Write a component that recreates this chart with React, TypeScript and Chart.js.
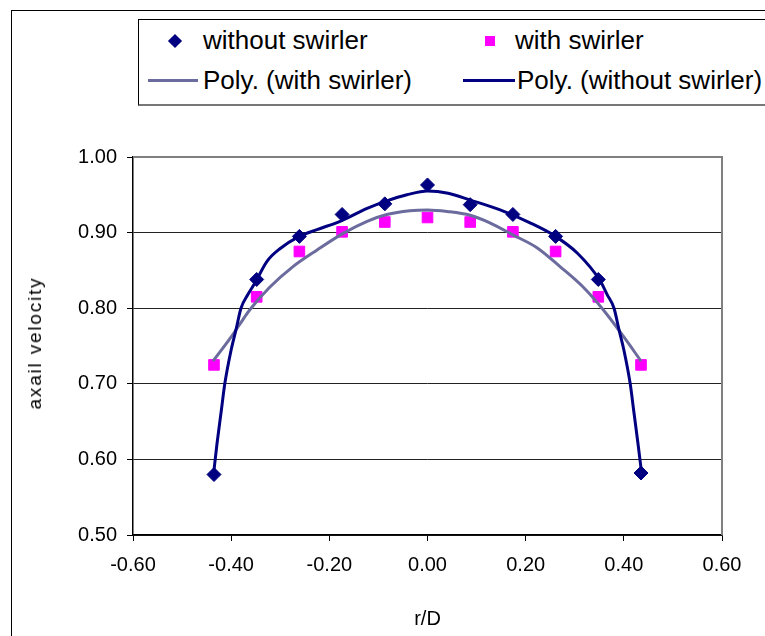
import React, { useEffect, useRef } from 'react';
import { Chart, registerables } from 'chart.js';

Chart.register(...registerables);

const FONT = '"Liberation Sans", Arial, sans-serif';

// measured points
const rD = [-0.435, -0.348, -0.261, -0.174, -0.087, 0, 0.087, 0.174, 0.261, 0.348, 0.435];
const withoutSwirler = [0.58, 0.838, 0.895, 0.924, 0.938, 0.963, 0.937, 0.924, 0.895, 0.838, 0.582];
const withSwirler = [0.725, 0.815, 0.875, 0.901, 0.914, 0.92, 0.914, 0.901, 0.875, 0.815, 0.725];

// trendlines
const polyWithoutX = [-0.436, -0.429, -0.42, -0.413, -0.4, -0.39, -0.38, -0.366, -0.351, -0.327, -0.3, -0.264, -0.225, -0.178, -0.123, -0.083, -0.042, 0, 0.042, 0.087, 0.148, 0.209, 0.256, 0.305, 0.352, 0.366, 0.38, 0.39, 0.4, 0.413, 0.42, 0.429, 0.436];
const polyWithoutY = [0.58, 0.62, 0.665, 0.7, 0.745, 0.772, 0.8, 0.818, 0.834, 0.862, 0.879, 0.894, 0.904, 0.915, 0.932, 0.942, 0.95, 0.955, 0.952, 0.943, 0.93, 0.913, 0.897, 0.873, 0.836, 0.818, 0.8, 0.772, 0.745, 0.7, 0.665, 0.62, 0.583];

const polyWithX = [-0.437, -0.4, -0.376, -0.362, -0.321, -0.274, -0.225, -0.172, -0.123, -0.083, -0.036, 0, 0.04, 0.087, 0.127, 0.174, 0.223, 0.27, 0.317, 0.358, 0.4, 0.435];
const polyWithY = [0.73, 0.762, 0.785, 0.798, 0.828, 0.855, 0.877, 0.899, 0.915, 0.924, 0.929, 0.93, 0.928, 0.923, 0.913, 0.897, 0.88, 0.855, 0.828, 0.798, 0.762, 0.73];

const xTicks = [-0.6, -0.4, -0.2, 0, 0.2, 0.4, 0.6];
const yTicks = [0.5, 0.6, 0.7, 0.8, 0.9, 1.0];

const NAVY = '#000080';
const MAGENTA = '#FF00FF';
const GRAYBLUE = '#6B6B9E';

const zip = (xs: number[], ys: number[]) => xs.map((x, i) => ({ x, y: ys[i] }));

const plotBorder = {
  id: 'plotBorder',
  beforeDatasetsDraw(chart: any) {
    const { ctx, chartArea } = chart;
    ctx.save();
    ctx.strokeStyle = '#808080';
    ctx.lineWidth = 2;
    ctx.beginPath();
    ctx.moveTo(chartArea.left, chartArea.top);
    ctx.lineTo(chartArea.right, chartArea.top);
    ctx.lineTo(chartArea.right, chartArea.bottom);
    ctx.stroke();
    ctx.restore();
  },
};

export default function App() {
  const ref = useRef<HTMLCanvasElement>(null);
  useEffect(() => {
    const chart = new Chart(ref.current!, {
      type: 'scatter',
      data: {
        datasets: [
          {
            label: 'Poly. (without swirler)',
            data: zip(polyWithoutX, polyWithoutY),
            showLine: true,
            borderColor: NAVY,
            borderWidth: 3,
            pointRadius: 0,
            cubicInterpolationMode: 'monotone',
          },
          {
            label: 'Poly. (with swirler)',
            data: zip(polyWithX, polyWithY),
            showLine: true,
            borderColor: GRAYBLUE,
            borderWidth: 3,
            pointRadius: 0,
            cubicInterpolationMode: 'monotone',
          },
          {
            label: 'without swirler',
            data: zip(rD, withoutSwirler),
            pointStyle: 'rectRot',
            pointRadius: 7,
            backgroundColor: NAVY,
            borderColor: NAVY,
            borderWidth: 1,
          },
          {
            label: 'with swirler',
            data: zip(rD, withSwirler),
            pointStyle: 'rect',
            pointRadius: 7.5,
            backgroundColor: MAGENTA,
            borderColor: MAGENTA,
            borderWidth: 1,
          },
        ],
      },
      options: {
        responsive: false,
        animation: false,
        layout: { padding: { top: 157, right: 43, left: 0, bottom: 0 } },
        plugins: { legend: { display: false }, tooltip: { enabled: false } },
        scales: {
          x: {
            type: 'linear',
            min: -0.6,
            max: 0.6,
            afterFit: (s: any) => { s.height = 101; },
            afterBuildTicks: (s: any) => { s.ticks = xTicks.map((v) => ({ value: v })); },
            ticks: {
              color: '#000',
              padding: 12,
              font: { family: FONT, size: 20 },
              callback: (v: any) => (Math.abs(Number(v)) < 1e-9 ? 0 : Number(v)).toFixed(2),
            },
            grid: { drawOnChartArea: false, drawTicks: true, tickLength: 6, color: '#000' },
            border: { color: '#000', width: 1.5 },
            title: {
              display: true,
              text: 'r/D',
              color: '#000',
              font: { family: FONT, size: 20 },
              padding: { top: 0, bottom: 5 },
            },
          },
          y: {
            type: 'linear',
            min: 0.5,
            max: 1.0,
            afterFit: (s: any) => { s.width = 133; },
            afterBuildTicks: (s: any) => { s.ticks = yTicks.map((v) => ({ value: v })); },
            ticks: {
              color: '#000',
              padding: 10,
              font: { family: FONT, size: 20 },
              callback: (v: any) => Number(v).toFixed(2),
            },
            grid: { color: '#222', lineWidth: 1, tickLength: 6, tickColor: '#000' },
            border: { color: '#000', width: 1.5 },
            title: { display: false, text: 'axail velocity' },
          },
        },
      },
      plugins: [plotBorder],
    });
    return () => chart.destroy();
  }, []);

  const textStyle = (left: number, cy: number): React.CSSProperties => ({
    position: 'absolute',
    left,
    top: cy - 16,
    height: 32,
    lineHeight: '32px',
    fontSize: 26,
    fontFamily: FONT,
    color: '#000',
    whiteSpace: 'nowrap',
  });

  return (
    <div style={{ position: 'absolute', left: 0, top: 0, width: 765, height: 636, overflow: 'hidden', background: '#fff' }}>
      <div style={{ position: 'absolute', left: 11, top: 10, width: 800, height: 700, borderLeft: '1.5px solid #000', borderTop: '1.5px solid #000' }} />
      <canvas ref={ref} width={765} height={636} style={{ position: 'absolute', left: 0, top: 0 }} />
      <div
        style={{
          position: 'absolute',
          left: 35,
          top: 343,
          transform: 'translate(-50%, -50%) rotate(-90deg)',
          whiteSpace: 'nowrap',
          fontFamily: FONT,
          fontSize: 19,
          letterSpacing: '1.8px',
          lineHeight: '22px',
          color: '#000',
        }}
      >
        axail velocity
      </div>
      <div style={{ position: 'absolute', left: 138, top: 19, width: 680, height: 84, border: '1px solid #000', borderBottom: '2px solid #777', background: '#fff' }} />
      <div style={{ position: 'absolute', left: 170, top: 36, width: 10, height: 10, background: NAVY, transform: 'rotate(45deg)' }} />
      <div style={textStyle(203, 40)}>without swirler</div>
      <div style={{ position: 'absolute', left: 485, top: 36, width: 10, height: 10, background: MAGENTA }} />
      <div style={textStyle(515, 40)}>with swirler</div>
      <div style={{ position: 'absolute', left: 148, top: 79, width: 50, height: 3, background: GRAYBLUE }} />
      <div style={textStyle(203, 80)}>Poly. (with swirler)</div>
      <div style={{ position: 'absolute', left: 463, top: 79, width: 52, height: 3, background: NAVY }} />
      <div style={textStyle(517, 80)}>Poly. (without swirler)</div>
    </div>
  );
}
